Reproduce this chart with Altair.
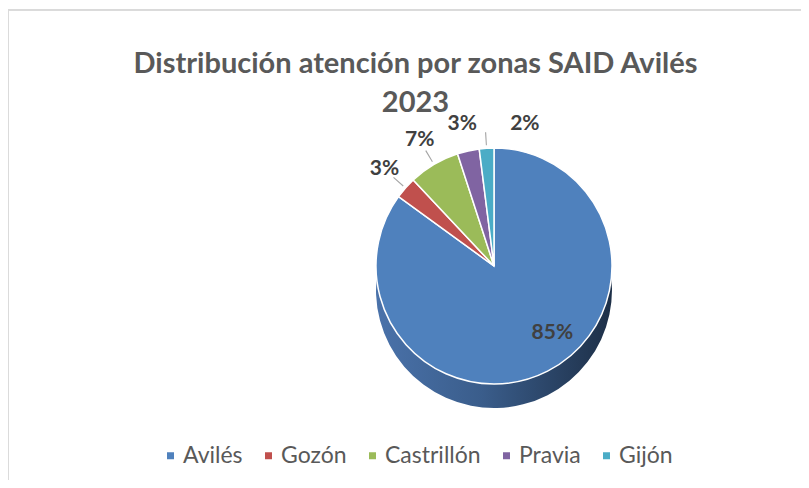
import math
import pandas as pd
import altair as alt

zonas = ["Avilés", "Gozón", "Castrillón", "Pravia", "Gijón"]
porcentajes = [85, 3, 7, 3, 2]
colores = ["#4F81BD", "#C0504D", "#9BBB59", "#8064A2", "#4BACC6"]
titulo = ["Distribución atención por zonas SAID Avilés", "2023"]

df = pd.DataFrame({"zona": zonas, "pct": porcentajes, "orden": list(range(len(zonas)))})

W, H = 793, 470
CX, CY = 486, 256
R = 118
DEPTH = 24
LABEL_R = 146

theta_scale = alt.Scale(domain=[0, 100], range=[0, math.tau])

base = (
    alt.Chart(df)
    .transform_window(cum="sum(pct)", sort=[alt.SortField("orden")], frame=[None, 0])
    .transform_calculate(
        start="datum.cum - datum.pct",
        mid="datum.cum - datum.pct / 2",
        lead_a="datum.cum - datum.pct / 2 - 0.07",
        lead_b="datum.cum - datum.pct / 2 + 0.07",
        label="datum.pct + '%'",
    )
)

side_fill = alt.Gradient(
    gradient="linear",
    x1=0, x2=1, y1=0, y2=0,
    stops=[
        alt.GradientStop(color="#4a72aa", offset=0),
        alt.GradientStop(color="#3a5d8b", offset=0.45),
        alt.GradientStop(color="#1d2f47", offset=1),
    ],
)

depth = (
    base.transform_filter("datum.zona == 'Avilés'")
    .mark_arc(outerRadius=R, fill=side_fill)
    .encode(
        theta=alt.Theta("start:Q", scale=theta_scale),
        theta2="cum:Q",
        x=alt.value(CX),
        y=alt.value(CY + DEPTH),
    )
)

top = base.mark_arc(outerRadius=R, stroke="white", strokeWidth=1.5).encode(
    theta=alt.Theta("start:Q", scale=theta_scale),
    theta2="cum:Q",
    color=alt.Color(
        "zona:N",
        scale=alt.Scale(domain=zonas, range=colores),
        sort=zonas,
        legend=alt.Legend(
            title=None,
            orient="none",
            direction="horizontal",
            legendX=151,
            legendY=434,
            symbolType="square",
            symbolSize=49,
            symbolStrokeWidth=0,
            labelFont="Lato",
            labelFontSize=23,
            labelColor="#595959",
            labelOffset=1,
            columnPadding=14,
            padding=0,
        ),
    ),
    x=alt.value(CX),
    y=alt.value(CY),
)

leaders = (
    base.transform_filter("datum.zona == 'Gozón' || datum.zona == 'Castrillón' || datum.zona == 'Gijón'")
    .mark_arc(innerRadius=R + 3, outerRadius=R + 16, color="#a6a6a6")
    .encode(
        theta=alt.Theta("lead_a:Q", scale=theta_scale),
        theta2="lead_b:Q",
        x=alt.value(CX),
        y=alt.value(CY),
    )
)

label_in = (
    base.transform_filter("datum.zona == 'Avilés'")
    .mark_text(radius=80, dx=22, dy=-4, font="Lato", fontSize=21, fontWeight="bold", color="#404040")
    .encode(
        theta=alt.Theta("mid:Q", scale=theta_scale),
        text="label:N",
        x=alt.value(CX),
        y=alt.value(CY),
    )
)

label_out = (
    base.transform_filter("datum.zona != 'Avilés' && datum.zona != 'Gijón'")
    .mark_text(radius=LABEL_R, font="Lato", fontSize=21, fontWeight="bold", color="#404040")
    .encode(
        theta=alt.Theta("mid:Q", scale=theta_scale),
        text="label:N",
        x=alt.value(CX),
        y=alt.value(CY),
    )
)

label_gijon = (
    base.transform_filter("datum.zona == 'Gijón'")
    .mark_text(radius=LABEL_R, dx=40, dy=4, font="Lato", fontSize=21, fontWeight="bold", color="#404040")
    .encode(
        theta=alt.Theta("mid:Q", scale=theta_scale),
        text="label:N",
        x=alt.value(CX),
        y=alt.value(CY),
    )
)

border_top = alt.Chart(df).mark_rule(color="#d9d9d9", strokeWidth=1).encode(
    x=alt.value(0), x2=alt.value(W), y=alt.value(0)
)
border_left = alt.Chart(df).mark_rule(color="#d9d9d9", strokeWidth=1).encode(
    x=alt.value(0), y=alt.value(0), y2=alt.value(H)
)

chart = (
    alt.layer(border_top, border_left, depth, top, leaders, label_in, label_out, label_gijon)
    .properties(
        width=W,
        height=H,
        autosize=alt.AutoSizeParams(type="none"),
        padding={"left": 0, "top": 2, "right": 0, "bottom": 0},
        title=alt.TitleParams(
            text=titulo,
            font="Lato",
            fontSize=29,
            fontWeight="bold",
            color="#595959",
            lineHeight=39,
            anchor="middle",
            frame="group",
            offset=-108,
            dx=11,
        ),
        background="white",
    )
    .configure_view(stroke=None)
)

chart.save("out.html", embed_options={"renderer": "svg", "actions": False})
